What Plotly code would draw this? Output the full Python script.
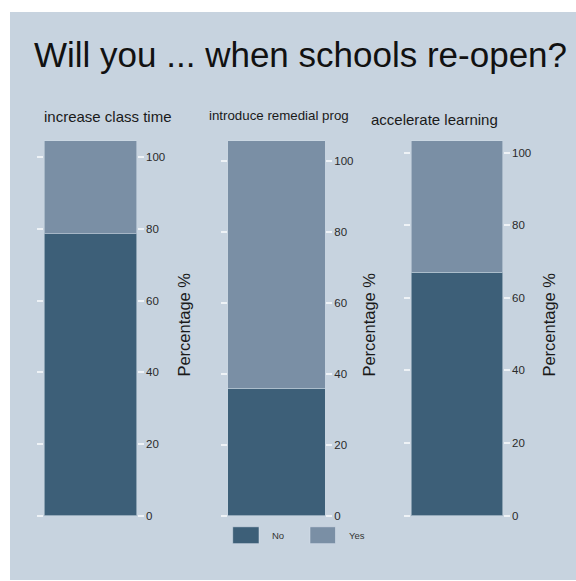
import plotly.graph_objects as go

W, H = 576, 581

panels = ["increase class time", "introduce remedial prog", "accelerate learning"]
no_vals = [78.7, 35.9, 67.0]
yes_vals = [26.0, 69.8, 36.3]
series_names = ["No", "Yes"]
tick_vals = [0, 20, 40, 60, 80, 100]

BG = "#c7d3df"
C_NO = "#3d5f78"
C_YES = "#7a8fa5"

def px(x):
    return x / W

def py(y):
    return 1 - y / H

x_doms = [(44.3, 136.7), (227.7, 325.0), (411.0, 502.7)]
y_dom = (py(521), py(142))
title_pos = [(107.5, 118, 15), (279, 117, 13.3), (434, 121, 15)]
ytitle_x = [184, 369, 549]

fig = go.Figure()
annotations = []
for i in range(3):
    xa = "x" if i == 0 else f"x{i+1}"
    ya = "y" if i == 0 else f"y{i+1}"
    total = no_vals[i] + yes_vals[i]
    fig.add_trace(go.Bar(x=[panels[i]], y=[no_vals[i]], name=series_names[0],
                         marker=dict(color=C_NO, line=dict(color="rgba(220,230,240,0.45)", width=1)),
                         xaxis=xa, yaxis=ya, showlegend=False, width=1, hoverinfo="skip"))
    fig.add_trace(go.Bar(x=[panels[i]], y=[yes_vals[i]], name=series_names[1],
                         marker=dict(color=C_YES, line=dict(color="rgba(220,230,240,0.45)", width=1)),
                         xaxis=xa, yaxis=ya, showlegend=False, width=1, hoverinfo="skip"))
    xk = "xaxis" if i == 0 else f"xaxis{i+1}"
    yk = "yaxis" if i == 0 else f"yaxis{i+1}"
    fig.layout[xk] = dict(domain=[px(x_doms[i][0]), px(x_doms[i][1])], anchor=ya,
                          showticklabels=False, showgrid=False, zeroline=False,
                          showline=False, ticks="", range=[-0.5, 0.5])
    fig.layout[yk] = dict(domain=list(y_dom), anchor=xa, side="right",
                          range=[0, total], tickvals=tick_vals,
                          ticks="outside", ticklen=6, tickwidth=2, tickcolor="#eef2f6",
                          mirror="ticks", showline=False, showgrid=False, zeroline=False,
                          tickfont=dict(size=11.5, color="#2a2a2a"))
    tx, ty, ts = title_pos[i]
    annotations.append(dict(text=panels[i], x=px(tx), y=py(ty), xref="paper", yref="paper",
                            showarrow=False, xanchor="center", yanchor="middle",
                            font=dict(size=ts, color="#1a1a1a")))
    annotations.append(dict(text="Percentage %", x=px(ytitle_x[i]), y=py(328), xref="paper", yref="paper",
                            showarrow=False, textangle=-90, xanchor="center", yanchor="middle",
                            font=dict(size=16.5, color="#1a1a1a")))

annotations.append(dict(text="Will you ... when schools re-open?", x=px(300), y=py(55),
                        xref="paper", yref="paper", showarrow=False,
                        xanchor="center", yanchor="middle",
                        font=dict(size=35, color="#111111")))

# legend (drawn manually)
shapes = [dict(type="rect", xref="paper", yref="paper", x0=px(10), x1=px(W + 5),
               y0=py(H + 5), y1=py(12), fillcolor=BG, line=dict(width=0), layer="below")]
leg = [(232.7, 259, 270, C_NO), (310, 335.5, 347, C_YES)]
for (x0, x1, tx, col), name in zip(leg, series_names):
    shapes.append(dict(type="rect", xref="paper", yref="paper", x0=px(x0), x1=px(x1),
                       y0=py(549.3), y1=py(532.3), fillcolor=col,
                       line=dict(color="rgba(220,230,240,0.5)", width=1)))
    annotations.append(dict(text=name, x=px(tx), y=py(541), xref="paper", yref="paper",
                            showarrow=False, xanchor="left", yanchor="middle",
                            font=dict(size=9.5, color="#333333")))

fig.update_layout(width=W, height=H, margin=dict(l=0, r=0, t=0, b=0),
                  paper_bgcolor="white", plot_bgcolor=BG,
                  barmode="stack", bargap=0, showlegend=False, hovermode=False,
                  font=dict(family="Arial, Liberation Sans, sans-serif"),
                  annotations=annotations, shapes=shapes)

fig.write_html("out.html", config={"displayModeBar": False, "staticPlot": True},
               post_script="document.body.style.margin='0px';document.body.style.padding='0px';document.body.style.overflow='hidden';")
